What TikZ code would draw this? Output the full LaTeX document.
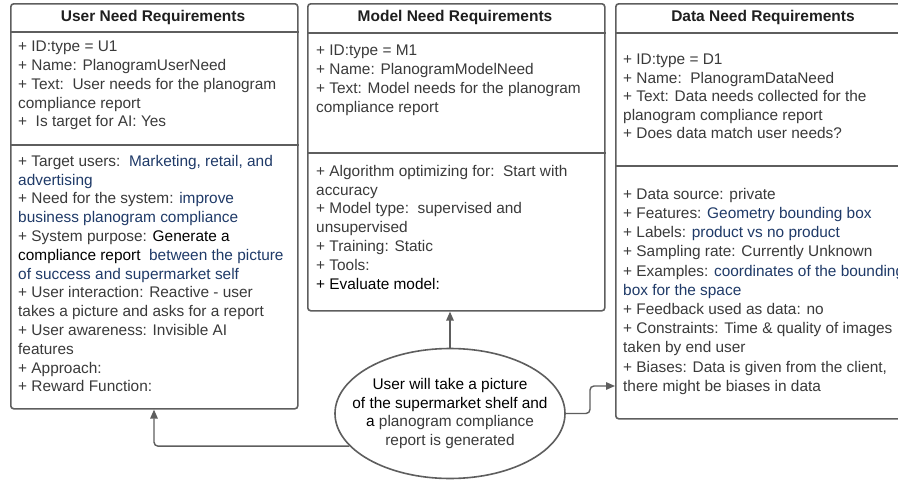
\documentclass[tikz,border=0pt]{standalone}
\usepackage{fontspec}
\setmainfont{Liberation Sans}
\usetikzlibrary{arrows.meta,shapes.geometric,calc}
\definecolor{edgegray}{HTML}{5E5E5E}
\definecolor{txtgray}{HTML}{3A3A3A}
\definecolor{navyblue}{HTML}{1F3A68}
\newcommand\navytext[1]{{\color{navyblue}#1}}
\newcommand\blacktext[1]{{\color{black}#1}}
\tikzset{
  reqbox/.style={draw=edgegray, line width=1.6pt, rounded corners=3pt, fill=white, anchor=north west, inner sep=0pt},
  sepline/.style={draw=edgegray, line width=1.6pt},
  boxtitle/.style={font=\bfseries\fontsize{15.5}{18}\selectfont, text=black!88},
  bodytext/.style={anchor=north west, inner sep=0pt, align=left, text=txtgray, font=\fontsize{15.4}{18.8}\selectfont},
  conn/.style={draw=edgegray, line width=1.4pt, -{Triangle[length=9pt,width=7.5pt]}, rounded corners=4pt},
  oval/.style={ellipse, draw=edgegray, line width=1.6pt, fill=white, minimum width=230pt, minimum height=130pt, inner sep=0pt},
  ovaltext/.style={align=center, inner sep=0pt, text=txtgray, font=\fontsize{15.4}{18.7}\selectfont}
}
\begin{document}
\begin{tikzpicture}[x=1pt,y=-1pt]
\useasboundingbox (0,0) rectangle (898,482);
\clip (0,0) rectangle (898,482);
\fill[white] (0,0) rectangle (898,482);

% boxes
\node[reqbox, minimum width=287pt, minimum height=405pt] (user) at (10,3) {};
\node[reqbox, minimum width=297pt, minimum height=307pt] (model) at (307,3) {};
\node[reqbox, minimum width=296pt, minimum height=415pt] (data) at (615,3) {};

% separators
\draw[sepline] ([yshift=-29pt]user.north west) -- ([yshift=-29pt]user.north east);
\draw[sepline] ([yshift=-142pt]user.north west) -- ([yshift=-142pt]user.north east);
\draw[sepline] ([yshift=-30pt]model.north west) -- ([yshift=-30pt]model.north east);
\draw[sepline] ([yshift=-150pt]model.north west) -- ([yshift=-150pt]model.north east);
\draw[sepline] ([yshift=-30pt]data.north west) -- ([yshift=-30pt]data.north east);
\draw[sepline] ([yshift=-163pt]data.north west) -- ([yshift=-163pt]data.north east);

% titles
\node[boxtitle] (usertitle) at (153,17) {User Need Requirements};
\node[boxtitle] (modeltitle) at (455,17) {Model Need Requirements};
\node[boxtitle] (datatitle) at (763,17) {Data Need Requirements};

% user text
\node[bodytext] (usertop) at (18,41) {+ ID:type = U1\\
+ Name: PlanogramUserNeed\\
+ Text:\ \ User needs for the planogram\\
compliance report\\
+\ \ Is target for AI: Yes};
\node[bodytext] (userbottom) at (18,155) {+ Target users:\ \ \navytext{Marketing, retail, and}\\
\navytext{advertising}\\
+ Need for the system: \navytext{improve}\\
\navytext{business planogram compliance}\\
+ System purpose: \blacktext{Generate a}\\
\blacktext{compliance report}\ \ \navytext{between the picture}\\
\navytext{of success and supermarket self}\\
+ User interaction: Reactive - user\\
takes a picture and asks for a report\\
+ User awareness: Invisible AI\\
features\\
+ Approach:\\
+ Reward Function:};

% model text
\node[bodytext] (modeltop) at (316,45) {+ ID:type = M1\\
+ Name: PlanogramModelNeed\\
+ Text: Model needs for the planogram\\
compliance report};
\node[bodytext] (modelbottom) at (316,165) {+ Algorithm optimizing for:\ \ Start with\\
accuracy\\
+ Model type:\ \ supervised and\\
unsupervised\\
+ Training: Static\\
+ Tools:\\
\blacktext{+ Evaluate model:}};

% data text
\node[bodytext, font=\fontsize{15.4}{18.5}\selectfont] (datatop) at (623,54) {+ ID:type = D1\\
+ Name:\ \ PlanogramDataNeed\\
+ Text: Data needs collected for the\\
planogram compliance report\\
+ Does data match user needs?};
\node[bodytext, font=\fontsize{15.4}{19.2}\selectfont] (databottom) at (623,188) {+ Data source: private\\
+ Features: \navytext{Geometry bounding box}\\
+ Labels: \navytext{product vs no product}\\
+ Sampling rate: Currently Unknown\\
+ Examples: \navytext{coordinates of the bounding}\\
\navytext{box for the space}\\
+ Feedback used as data: no\\
+ Constraints: Time \& quality of images\\
taken by end user\\
+ Biases: Data is given from the client,\\
there might be biases in data};

% ellipse
\node[oval] (scenario) at (450,413.5) {};
\node[ovaltext] (scenariotext) at (scenario.center) {\blacktext{User will take a picture}\\
\blacktext{of the supermarket shelf and}\\
\blacktext{a} planogram compliance\\
report is generated};

% connectors
\coordinate (userin) at ($(user.south west)+(144,0)$);
\coordinate (bendright) at (590,386);
\coordinate (datain) at (data.west |- bendright);
\draw[conn] (scenario.north) -- (scenario.north |- model.south);
\draw[conn] (scenario.198) -| (userin);
\draw[conn] (scenario.east) -| (bendright) -- (datain);
\end{tikzpicture}
\end{document}
